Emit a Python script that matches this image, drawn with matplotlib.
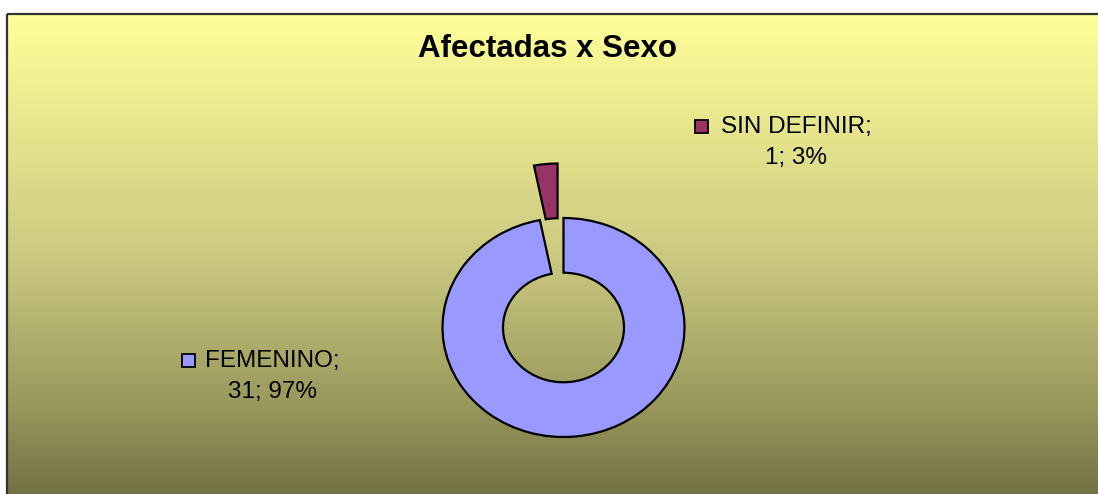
import numpy as np
import matplotlib
matplotlib.use("Agg")
import matplotlib.pyplot as plt
from matplotlib.patches import Rectangle

# Datos del gráfico
categorias = ["FEMENINO", "SIN DEFINIR"]
valores = [31, 1]
colores = ["#9999FF", "#993366"]
titulo = "Afectadas x Sexo"

plt.rcParams["font.family"] = ["Liberation Sans", "DejaVu Sans"]

W, H = 1098, 494
fig = plt.figure(figsize=(W / 100, H / 100), dpi=100, facecolor="white")

# fondo con degradado, en coordenadas de píxel
bg = fig.add_axes([0, 0, 1, 1], zorder=0)
bg.set_xlim(0, W)
bg.set_ylim(H, 0)
bg.axis("off")
filas = np.arange(14, H + 1)
paradas_y = [14, 250, 400, 494]
paradas_c = np.array([[255, 255, 153], [205, 203, 129], [155, 154, 94], [114, 114, 69]]) / 255
grad = np.stack([np.interp(filas, paradas_y, paradas_c[:, k]) for k in range(3)], axis=-1)
bg.imshow(grad[:, None, :], extent=[7, W, H, 14], aspect="auto", interpolation="bilinear")
bg.add_patch(Rectangle((7, 14), W + 10, H + 10, fill=False, edgecolor="#333333", linewidth=1.6))

bg.text(548, 57, titulo, ha="center", va="baseline", fontsize=22.5, fontweight="bold")

# anillo (donut) con la porción pequeña separada
cx, cy = 563.5, H - 327.5
rx, ry = 121, 109.5
lim = 1.6
aw, ah = 2 * lim * rx, 2 * lim * ry
ax = fig.add_axes([(cx - aw / 2) / W, (cy - ah / 2) / H, aw / W, ah / H], zorder=1)
ax.patch.set_visible(False)
ax.pie(valores, colors=colores, startangle=90, counterclock=False,
       explode=[0, 0.5], radius=1,
       wedgeprops=dict(width=0.5, edgecolor="black", linewidth=1.6))
ax.set_aspect("auto")
ax.set_xlim(-lim, lim)
ax.set_ylim(-lim, lim)
ax.axis("off")

# etiquetas con clave de leyenda
total = sum(valores)
etiquetas = [(272, 367, 182, 354), (796, 133, 695, 120)]
for cat, val, col, (tx, ty, kx, ky) in zip(categorias, valores, colores, etiquetas):
    pct = round(100 * val / total)
    bg.text(tx, ty, f"{cat};", ha="center", va="baseline", fontsize=17.5)
    bg.text(tx, ty + 31, f"{val}; {pct}%", ha="center", va="baseline", fontsize=17.5)
    bg.add_patch(Rectangle((kx, ky), 13, 13, facecolor=col, edgecolor="black", linewidth=1.3))

fig.savefig("out.png", dpi=100, facecolor="white")
